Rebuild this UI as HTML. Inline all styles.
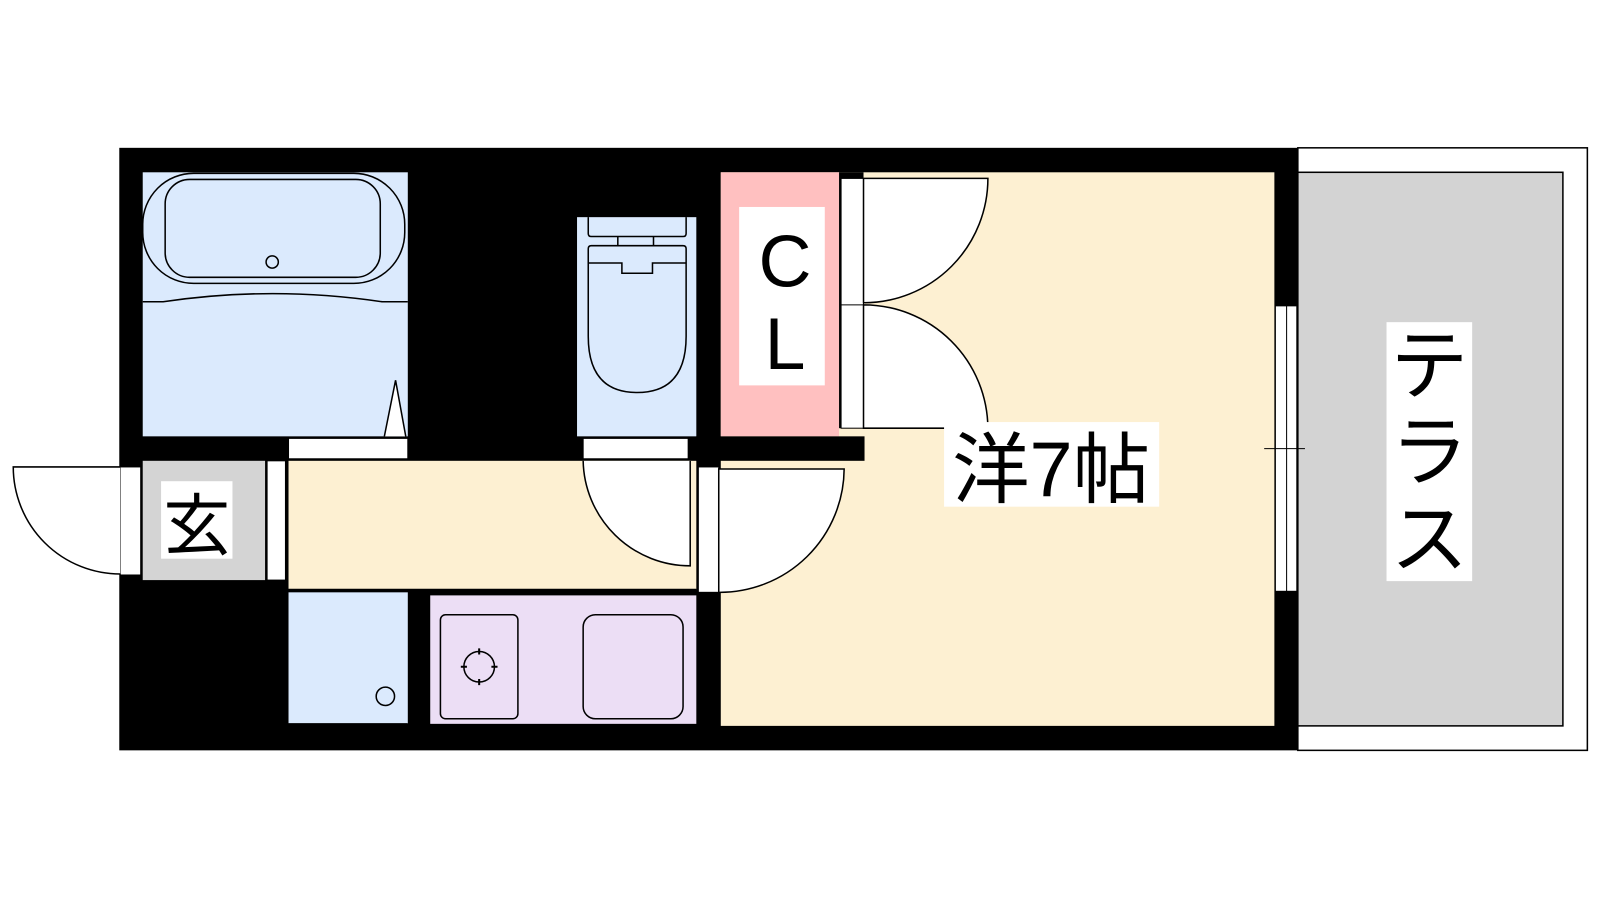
<!DOCTYPE html>
<html><head><meta charset="utf-8"><style>html,body{margin:0;padding:0;background:#fff}svg{display:block}</style></head><body>
<svg width="1600" height="900" viewBox="0 0 1600 900" xmlns="http://www.w3.org/2000/svg" font-family="'Liberation Sans','Noto Sans CJK JP',sans-serif">
<rect width="1600" height="900" fill="#fff"/>
<g transform="scale(1.0195)">
<!-- terrace -->
<rect x="1273" y="145" width="284" height="591" fill="#fff" stroke="#000" stroke-width="1.5"/>
<rect x="1273" y="169" width="260" height="543" fill="#d3d3d3" stroke="#000" stroke-width="1.5"/>
<!-- main black -->
<rect x="117" y="145" width="1156" height="591" fill="#000"/>
<!-- room -->
<rect x="707" y="169" width="543" height="543" fill="#fdf0d2"/>
<!-- bath -->
<rect x="140" y="169" width="260" height="259" fill="#dbeafd"/>
<rect x="140" y="170" width="257" height="108" rx="50" fill="none" stroke="#000" stroke-width="1.5"/>
<rect x="162" y="176" width="211" height="96" rx="24" fill="none" stroke="#000" stroke-width="1.5"/>
<circle cx="267" cy="257" r="6" fill="none" stroke="#000" stroke-width="1.5"/>
<path d="M140 296 L160 296 Q267 280 375 296 L400 296" fill="none" stroke="#000" stroke-width="1.5"/>
<path d="M377 428 L388 373 L398 428" fill="#fff" stroke="#000" stroke-width="1.5"/>
<rect x="283" y="430" width="117" height="20" fill="#fff" stroke="#000" stroke-width="1"/>
<!-- toilet -->
<rect x="566" y="213" width="117" height="215" fill="#dbeafd"/>
<path d="M577 213 V229 Q577 232 580 232 H670 Q673 232 673 229 V213" fill="none" stroke="#000" stroke-width="1.5"/>
<path d="M606 232 V241 M641 232 V241" stroke="#000" stroke-width="1.5"/>
<path d="M577 244 V330 Q577 385 625 385 Q673 385 673 330 V244 Q673 241 670 241 H580 Q577 241 577 244 Z" fill="none" stroke="#000" stroke-width="1.5"/>
<path d="M577 258 H610 V268 H640 V258 H673" fill="none" stroke="#000" stroke-width="1.5"/>
<rect x="572" y="430" width="103" height="20" fill="#fff" stroke="#000" stroke-width="1"/>
<!-- CL -->
<rect x="707" y="169" width="116" height="259" fill="#ffc0c0"/>
<rect x="725" y="203" width="84" height="175" fill="#fff"/>
<text x="770" y="281" font-size="72" text-anchor="middle">C</text>
<text x="770" y="362" font-size="72" text-anchor="middle">L</text>
<!-- hallway -->
<rect x="283" y="452" width="400" height="126" fill="#fdf0d2"/>
<line x1="283" y1="578" x2="683" y2="578" stroke="#000" stroke-width="1"/>
<!-- washbasin & kitchen -->
<rect x="283" y="581" width="117" height="129" fill="#dbeafd"/>
<line x1="283" y1="710" x2="400" y2="710" stroke="#000" stroke-width="1.5"/>
<circle cx="378" cy="683" r="9" fill="none" stroke="#000" stroke-width="1.5"/>
<rect x="422" y="584" width="261" height="126" fill="#ecdef5"/>
<rect x="432" y="603" width="76" height="102" rx="5" fill="none" stroke="#000" stroke-width="1.5"/>
<circle cx="470" cy="654" r="15" fill="none" stroke="#000" stroke-width="1.5"/>
<path d="M470 636 V642 M470 666 V672 M452 654 H458 M482 654 H488" stroke="#000" stroke-width="2"/>
<rect x="572" y="603" width="98" height="102" rx="12" fill="none" stroke="#000" stroke-width="1.5"/>
<!-- entrance -->
<rect x="140" y="452" width="120" height="117" fill="#d4d4d4"/>
<rect x="158" y="472" width="70" height="76" fill="#fff"/>
<text x="193" y="539" font-size="66" text-anchor="middle">玄</text>
<rect x="262" y="452" width="18" height="117" fill="#fff" stroke="#000" stroke-width="1"/>
<rect x="118" y="458" width="20" height="106" fill="#fff" stroke="#000" stroke-width="1"/>
<path d="M118 458 H13 A105 105 0 0 0 118 563" fill="#fff" stroke="#000" stroke-width="1.5"/>
<!-- toilet door swing -->
<path d="M572 452 A105 105 0 0 0 677 555 V452" fill="#fff" stroke="#000" stroke-width="1.5"/>
<!-- closet doors -->
<rect x="823" y="169" width="24" height="251" fill="#000"/>
<rect x="825" y="175" width="22" height="245" fill="#fff" stroke="#000" stroke-width="1"/>
<line x1="825" y1="299" x2="847" y2="299" stroke="#000" stroke-width="1"/>
<path d="M847 175 H969 A122 122 0 0 1 847 297 Z" fill="#fff" stroke="#000" stroke-width="1.5"/>
<path d="M847 299 A122 122 0 0 1 969 420 H847 Z" fill="#fff" stroke="#000" stroke-width="1.5"/>
<rect x="683" y="428" width="165" height="24" fill="#000"/>
<rect x="685" y="458" width="20" height="123" fill="#fff" stroke="#000" stroke-width="1"/>
<path d="M705 460 H828 A122 122 0 0 1 705 581 Z" fill="#fff" stroke="#000" stroke-width="1.5"/>
<rect x="926" y="414" width="211" height="83" fill="#fff"/>
<text x="1031" y="487" font-size="76" text-anchor="middle">洋7帖</text>
<!-- window -->
<rect x="1251" y="300" width="21" height="280" fill="#fff" stroke="#000" stroke-width="1"/>
<line x1="1262" y1="300" x2="1262" y2="580" stroke="#000" stroke-width="1"/>
<line x1="1240" y1="440" x2="1280" y2="440" stroke="#000" stroke-width="1"/>
<!-- terrace label -->
<rect x="1360" y="316" width="84" height="254" fill="#fff"/>
<text x="1402" y="385" font-size="76" text-anchor="middle">テ</text>
<text x="1402" y="470" font-size="76" text-anchor="middle">ラ</text>
<text x="1402" y="555" font-size="76" text-anchor="middle">ス</text>
</g>
</svg>
</body></html>
